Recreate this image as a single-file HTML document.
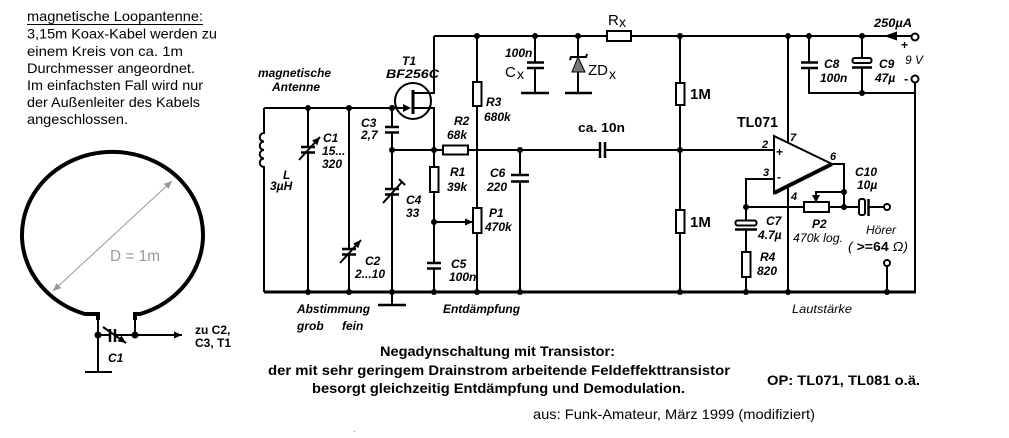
<!DOCTYPE html>
<html><head><meta charset="utf-8"><style>
html,body{margin:0;padding:0;background:#fff;}
svg{display:block}
text{font-family:"Liberation Sans",sans-serif;fill:#000}
.l{font-weight:bold;font-style:italic;font-size:12px}
.p{font-style:italic;font-size:11px;font-weight:bold}
</style></head><body>
<svg width="1009" height="438" viewBox="0 0 1009 438" xmlns="http://www.w3.org/2000/svg">
<defs>
<marker id="ah" markerWidth="9" markerHeight="8" refX="8" refY="4" orient="auto" markerUnits="userSpaceOnUse"><path d="M0,0.5 L8,4 L0,7.5 Z" fill="#000"/></marker>
<marker id="ag" markerWidth="9" markerHeight="8" refX="8" refY="4" orient="auto-start-reverse" markerUnits="userSpaceOnUse"><path d="M0,0.5 L8,4 L0,7.5 Z" fill="#999"/></marker>
</defs>
<rect width="1009" height="438" fill="#fff"/>

<!-- top-left description -->
<g font-size="14">
<text x="27" y="21" textLength="176" lengthAdjust="spacingAndGlyphs">magnetische Loopantenne:</text>
<text x="27" y="38.5" textLength="190" lengthAdjust="spacingAndGlyphs">3,15m Koax-Kabel werden zu</text>
<text x="27" y="56" textLength="156" lengthAdjust="spacingAndGlyphs">einem Kreis von ca. 1m</text>
<text x="27" y="73" textLength="168" lengthAdjust="spacingAndGlyphs">Durchmesser angeordnet.</text>
<text x="27" y="90" textLength="176" lengthAdjust="spacingAndGlyphs">Im einfachsten Fall wird nur</text>
<text x="27" y="107" textLength="173" lengthAdjust="spacingAndGlyphs">der Außenleiter des Kabels</text>
<text x="27" y="124" textLength="101" lengthAdjust="spacingAndGlyphs">angeschlossen.</text>
</g>
<line x1="27" y1="24.5" x2="203" y2="24.5" stroke="#000" stroke-width="1"/>

<!-- loop antenna -->
<g fill="none" stroke="#000">
<path d="M98,320 V314 H85 A90.5,83 0 1 1 140,314 H135 V320" stroke-width="4"/>
<path d="M98,318 V372 M135,318 V335 M85,372 H112" stroke-width="2"/>
<path d="M98,335 H110 M115,335 H135" stroke-width="2"/>
<path d="M110,329 V342 M115,329 V342" stroke-width="2.5"/>
<line x1="103" y1="327" x2="126" y2="343" stroke-width="2" marker-end="url(#ah)"/>
<line x1="135" y1="335" x2="182" y2="335" stroke-width="2" marker-end="url(#ah)"/>
<line x1="53" y1="291" x2="172" y2="181" stroke="#999" stroke-width="1" marker-start="url(#ag)" marker-end="url(#ag)"/>
</g>
<circle cx="98" cy="335" r="3.5"/><circle cx="135" cy="335" r="3.5"/>
<text x="110" y="261" font-size="16" style="fill:#999" textLength="50" lengthAdjust="spacingAndGlyphs">D = 1m</text>
<text x="195" y="334" font-size="12" font-weight="bold">zu C2,</text>
<text x="195" y="347" font-size="12" font-weight="bold">C3, T1</text>
<text x="108" y="362" class="l">C1</text>

<!-- schematic wires -->
<g fill="none" stroke="#000" stroke-width="2">
<!-- antenna tank -->
<path d="M264,108 H404"/>
<path d="M264,108 V133 A4.25,4.25 0 0 0 264,141.5 A4.25,4.25 0 0 0 264,150 A4.25,4.25 0 0 0 264,158.5 A4.25,4.25 0 0 0 264,167 V292"/>
<path d="M308,108 V147 M308,152.5 V292"/>
<path d="M301,147 H315 M301,152.5 H315" stroke-width="2.5"/>
<line x1="299" y1="160" x2="320" y2="137" marker-end="url(#ah)"/>
<path d="M349,108 V249 M349,254.5 V292"/>
<path d="M342,249 H356 M342,254.5 H356" stroke-width="2.5"/>
<line x1="340" y1="263" x2="361" y2="240" marker-end="url(#ah)"/>
<path d="M392,108 V127 M392,132.5 V189 M392,194.5 V305"/>
<path d="M385,127 H399 M385,132.5 H399 M385,189 H399 M385,194.5 H399" stroke-width="2.5"/>
<path d="M383,203 L402,182 M399,179 L405,185"/>
<path d="M378,305 H406" stroke-width="2.5"/>
<!-- T1 -->
<circle cx="413" cy="101" r="18"/>
<path d="M413,90 V114" stroke-width="3"/>
<path d="M413,93 H434 V36 M413,108 H434 V167"/>
<!-- signal line -->
<path d="M392,150 H443 M468,150 H600 M605,150 H774"/>
<rect x="443" y="145.5" width="25" height="9" fill="#fff"/>
<path d="M600,142 V158 M605,142 V158" stroke-width="2.5"/>
<!-- R1, C5 -->
<rect x="430" y="167" width="8.5" height="25" fill="#fff"/>
<path d="M434,192 V263 M434,268.5 V292"/>
<path d="M427,263 H441 M427,268.5 H441" stroke-width="2.5"/>
<line x1="434" y1="222" x2="473" y2="222" marker-end="url(#ah)"/>
<!-- R3, P1 -->
<path d="M477,36 V82 M477,106 V208 M477,233 V292"/>
<rect x="473" y="82" width="8.5" height="24" fill="#fff"/>
<rect x="473" y="208" width="8.5" height="25" fill="#fff"/>
<!-- C6 -->
<path d="M520,150 V175 M520,181.5 V292"/>
<path d="M511,175 H529 M511,181.5 H529" stroke-width="2.5"/>
<!-- Cx -->
<path d="M535,36 V62.5 M535,68 V93"/>
<path d="M527,62.5 H544 M527,68 H544" stroke-width="2.5"/>
<path d="M521,93 H549" stroke-width="2.5"/>
<!-- ZDx -->
<path d="M578,36 V57 M578,72 V93"/>
<path d="M570,60 L571,57 H586 L587,54"/>
<path d="M565,93 H592" stroke-width="2.5"/>
<!-- top rail -->
<path d="M434,36 H607 M631,36 H912"/>
<rect x="607" y="31" width="24" height="10" fill="#fff"/>
<!-- 1M -->
<path d="M680,36 V83 M680,105 V210 M680,233 V292"/>
<rect x="676" y="83" width="8.5" height="22" fill="#fff"/>
<rect x="676" y="210" width="8.5" height="23" fill="#fff"/>
<!-- opamp -->
<path d="M774,136 L832,164 L774,193 Z"/>
<path d="M774,193 L832,164" stroke-width="4"/>
<path d="M788,36 V143 M788,186 V292"/>
<path d="M774,179 H746 V221 M746,230 V252 M746,277 V292"/>
<rect x="735.5" y="220.5" width="21" height="5" rx="2"/>
<path d="M735,229.5 H757" stroke-width="2.5"/>
<rect x="742" y="252" width="8.5" height="25" fill="#fff"/>
<path d="M746,207 H804 M829,207 H859"/>
<rect x="804" y="202" width="25" height="10" fill="#fff"/>
<path d="M832,164 H844 V207 M844,192 H816 V196"/>
<rect x="859" y="199" width="6" height="16" rx="2"/>
<path d="M868.5,199 V216" stroke-width="2.5"/>
<path d="M868,207 H884 M887,266 V292"/>
<circle cx="887" cy="207" r="3" fill="#fff"/>
<circle cx="887" cy="263" r="3" fill="#fff"/>
<!-- C8 C9 -->
<path d="M809,36 V62.5 M809,68 V93 H915 M862,36 V58 M862,67 V93"/>
<path d="M801,62.5 H818 M801,68 H818" stroke-width="2.5"/>
<rect x="852.5" y="58" width="19" height="5" rx="2"/>
<path d="M852,67.5 H872" stroke-width="2.5"/>
<path d="M915,83 V292"/>
<circle cx="915" cy="37" r="3.5" fill="#fff"/>
<circle cx="915" cy="79" r="3.5" fill="#fff"/>
<!-- bottom rail -->
<path d="M264,292 H916" stroke-width="3"/>
</g>
<!-- filled bits -->
<polygon points="411,108 403,104 403,112"/>
<polygon points="578,57 572,72 585,72" fill="#777" stroke="#000" stroke-width="1"/>
<polygon points="884,36 897,31.5 897,40.5"/>
<polygon points="812,195 820,195 816,202.5"/>
<!-- nodes -->
<g>
<circle cx="308" cy="108" r="3"/><circle cx="349" cy="108" r="3"/><circle cx="392" cy="108" r="3"/>
<circle cx="392" cy="150" r="3"/><circle cx="434" cy="150" r="3"/><circle cx="520" cy="150" r="3"/><circle cx="680" cy="150" r="3"/>
<circle cx="434" cy="222" r="3"/>
<circle cx="477" cy="36" r="3"/><circle cx="535" cy="36" r="3"/><circle cx="578" cy="36" r="3"/><circle cx="680" cy="36" r="3"/>
<circle cx="788" cy="36" r="3"/><circle cx="809" cy="36" r="3"/><circle cx="862" cy="36" r="3"/><circle cx="862" cy="93" r="3"/>
<circle cx="746" cy="207" r="3"/><circle cx="844" cy="192" r="3"/><circle cx="844" cy="207" r="3"/>
<circle cx="308" cy="292" r="3"/><circle cx="349" cy="292" r="3"/><circle cx="392" cy="292" r="3"/><circle cx="434" cy="292" r="3"/>
<circle cx="477" cy="292" r="3"/><circle cx="520" cy="292" r="3"/><circle cx="680" cy="292" r="3"/><circle cx="746" cy="292" r="3"/>
<circle cx="788" cy="292" r="3"/><circle cx="887" cy="292" r="3"/>
</g>

<!-- labels -->
<text x="258" y="77" class="l" textLength="73" lengthAdjust="spacingAndGlyphs">magnetische</text>
<text x="272" y="91" class="l">Antenne</text>
<text x="402" y="65" class="l">T1</text>
<text x="386" y="78" class="l" textLength="53" lengthAdjust="spacingAndGlyphs">BF256C</text>
<text x="323" y="142" class="l">C1</text>
<text x="322" y="155" class="l">15...</text>
<text x="322" y="168" class="l">320</text>
<text x="283" y="179" class="l">L</text>
<text x="270" y="190" class="l">3µH</text>
<text x="361" y="127" class="l">C3</text>
<text x="361" y="139" class="l">2,7</text>
<text x="406" y="204" class="l">C4</text>
<text x="406" y="217" class="l">33</text>
<text x="365" y="265" class="l">C2</text>
<text x="355" y="278" class="l">2...10</text>
<text x="297" y="313" class="l" textLength="73" lengthAdjust="spacingAndGlyphs">Abstimmung</text>
<text x="297" y="330" class="l">grob</text>
<text x="342" y="330" class="l">fein</text>
<text x="454" y="125" class="l">R2</text>
<text x="447" y="139" class="l">68k</text>
<text x="486" y="106" class="l">R3</text>
<text x="484" y="121" class="l">680k</text>
<text x="450" y="176" class="l">R1</text>
<text x="447" y="191" class="l">39k</text>
<text x="490" y="177" class="l">C6</text>
<text x="487" y="191" class="l">220</text>
<text x="489" y="217" class="l">P1</text>
<text x="485" y="231" class="l">470k</text>
<text x="451" y="268" class="l">C5</text>
<text x="449" y="281" class="l">100n</text>
<text x="443" y="313" class="l" textLength="77" lengthAdjust="spacingAndGlyphs">Entdämpfung</text>
<text x="505" y="57" class="l">100n</text>
<text x="505" y="77" font-size="15">C</text><text x="517" y="79" font-size="14">x</text>
<text x="608" y="25" font-size="15">R</text><text x="619" y="27" font-size="14">x</text>
<text x="588" y="75" font-size="15">ZD</text><text x="609" y="79" font-size="14">x</text>
<text x="690" y="99" font-size="15" font-weight="bold">1M</text>
<text x="690" y="227" font-size="15" font-weight="bold">1M</text>
<text x="578" y="132" font-size="13" font-weight="bold" textLength="47" lengthAdjust="spacingAndGlyphs">ca. 10n</text>
<text x="737" y="127" font-size="15" font-weight="bold" textLength="41" lengthAdjust="spacingAndGlyphs">TL071</text>
<text x="790" y="141" class="p">7</text>
<text x="762" y="148" class="p">2</text>
<text x="763" y="176" class="p">3</text>
<text x="830" y="160" class="p">6</text>
<text x="791" y="200" class="p">4</text>
<text x="776" y="156" font-size="12" font-weight="bold">+</text>
<text x="777" y="181" font-size="12" font-weight="bold">-</text>
<text x="874" y="27" class="l" textLength="38" lengthAdjust="spacingAndGlyphs">250µA</text>
<text x="901" y="49" font-size="12" font-weight="bold">+</text>
<text x="905" y="64" class="l" style="font-weight:normal" font-size="13">9 V</text>
<text x="904" y="83" font-size="13" font-weight="bold">-</text>
<text x="824" y="68" class="l">C8</text>
<text x="820" y="82" class="l">100n</text>
<text x="879" y="68" class="l">C9</text>
<text x="875" y="82" class="l">47µ</text>
<text x="855" y="176" class="l">C10</text>
<text x="857" y="189" class="l">10µ</text>
<text x="766" y="225" class="l">C7</text>
<text x="758" y="239" class="l">4.7µ</text>
<text x="760" y="261" class="l">R4</text>
<text x="757" y="275" class="l">820</text>
<text x="812" y="228" class="l">P2</text>
<text x="793" y="242" class="l" style="font-weight:normal" textLength="50" lengthAdjust="spacingAndGlyphs">470k log.</text>
<text x="866" y="234" class="l" style="font-weight:normal">Hörer</text>
<text x="848" y="251" font-size="13" textLength="60" lengthAdjust="spacingAndGlyphs"><tspan font-style="italic">( </tspan><tspan font-weight="bold">&gt;=64 </tspan><tspan font-style="italic">Ω)</tspan></text>
<text x="792" y="313" class="l" style="font-weight:normal" textLength="60" lengthAdjust="spacingAndGlyphs">Lautstärke</text>

<!-- bottom text -->
<g font-size="14" font-weight="bold">
<text x="380" y="356" textLength="235" lengthAdjust="spacingAndGlyphs">Negadynschaltung mit Transistor:</text>
<text x="268" y="375" textLength="462" lengthAdjust="spacingAndGlyphs">der mit sehr geringem Drainstrom arbeitende Feldeffekttransistor</text>
<text x="312" y="393" textLength="373" lengthAdjust="spacingAndGlyphs">besorgt gleichzeitig Entdämpfung und Demodulation.</text>
<text x="767" y="385" textLength="153" lengthAdjust="spacingAndGlyphs">OP: TL071, TL081 o.ä.</text>
</g>
<text x="533" y="419" font-size="14" textLength="282" lengthAdjust="spacingAndGlyphs">aus: Funk-Amateur, März 1999 (modifiziert)</text>
<rect x="354" y="431" width="1" height="1" fill="#888"/>
</svg>
</body></html>
